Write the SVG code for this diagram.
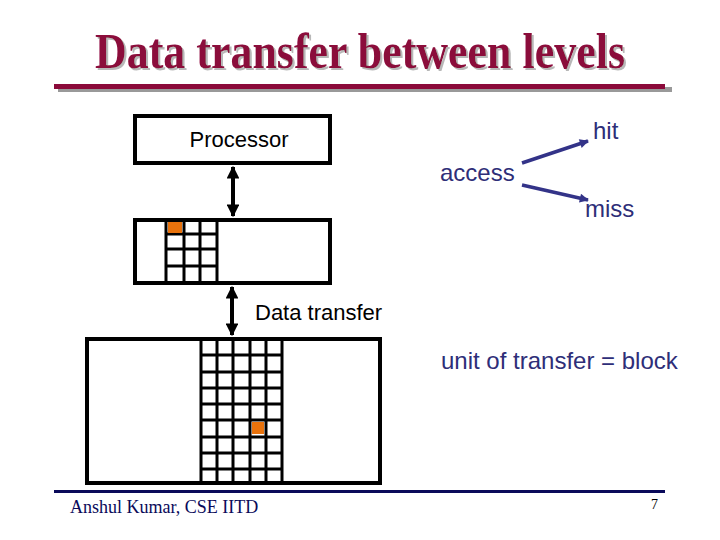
<svg xmlns="http://www.w3.org/2000/svg" width="720" height="540" viewBox="0 0 720 540">
<style>
.box{fill:#fff;stroke:#000;stroke-width:4}
.grid{stroke:#000;stroke-width:3;fill:none}
.sans{font-family:"Liberation Sans",Arial,sans-serif}
.s22{font-size:22px}
.s24{font-size:24px}
.navy{fill:#2e2e78}
.blk{fill:#000}
.conn-b{stroke:#000;stroke-width:4;fill:none}
.conn-n{stroke:#333388;stroke-width:3.5;fill:none}
</style>
<defs>
<marker id="ah" viewBox="0 0 10 10" refX="9" refY="5" markerWidth="3.2" markerHeight="3.2" orient="auto-start-reverse" markerUnits="strokeWidth">
<path d="M0,0 L10,5 L0,10 Z" fill="#000"/>
</marker>
<marker id="ahn" viewBox="0 0 10 10" refX="9" refY="5" markerWidth="3" markerHeight="2.6" orient="auto" markerUnits="strokeWidth">
<path d="M0,0 L10,5 L0,10 Z" fill="#333388"/>
</marker>
<filter id="shadow" x="-5%" y="-20%" width="110%" height="140%">
<feFlood flood-color="#b8b8b8" result="c"/>
<feComposite in="c" in2="SourceAlpha" operator="in" result="s"/>
<feOffset in="s" dx="2" dy="2" result="o"/>
<feMerge><feMergeNode in="o"/><feMergeNode in="SourceGraphic"/></feMerge>
</filter>
</defs>
<rect width="720" height="540" fill="#fff"/>
<g id="title">
<text x="95" y="68" textLength="530" lengthAdjust="spacingAndGlyphs" font-family="'Liberation Serif','Times New Roman',serif" font-weight="bold" font-size="50" fill="#8b0a3a" filter="url(#shadow)">Data transfer between levels</text>
<rect x="58" y="87" width="614" height="5" fill="#999"/>
<rect x="54" y="84" width="611" height="5" fill="#8b0a3a"/>
</g>
<g id="processor">
<rect class="box" x="135" y="116" width="195" height="47"/>
<text class="sans s22 blk" x="239" y="147" text-anchor="middle">Processor</text>
</g>
<g id="cache">
<rect class="box" x="135" y="220" width="195" height="63"/>
<path class="grid" d="M166,220V283M184,220V283M200,220V283M217,220V283M166,234H217M166,249H217M166,266H217"/>
<rect x="168" y="222" width="14" height="11" fill="#e8720c"/>
</g>
<g id="memory">
<rect class="box" x="87" y="339" width="293" height="144"/>
<path class="grid" d="M201,339V483M217,339V483M233,339V483M250,339V483M266,339V483M282,339V483M201,355H282M201,372H282M201,388H282M201,404H282M201,420H282M201,437H282M201,453H282M201,469H282"/>
<rect x="252" y="422" width="12" height="12" fill="#e8720c"/>
</g>
<g id="connectors">
<line class="conn-b" x1="233" y1="167" x2="233" y2="216" marker-start="url(#ah)" marker-end="url(#ah)"/>
<line class="conn-b" x1="232" y1="287" x2="232" y2="335" marker-start="url(#ah)" marker-end="url(#ah)"/>
<line class="conn-n" x1="522" y1="163" x2="588" y2="141" marker-end="url(#ahn)"/>
<line class="conn-n" x1="522" y1="185" x2="588" y2="200" marker-end="url(#ahn)"/>
</g>
<g id="labels">
<text class="sans s24 navy" x="593" y="139">hit</text>
<text class="sans s24 navy" x="440" y="181">access</text>
<text class="sans s24 navy" x="585" y="217">miss</text>
<text class="sans s22 blk" x="255" y="320">Data transfer</text>
<text class="sans s24 navy" x="441" y="369">unit of transfer = block</text>
</g>
<g id="footer">
<rect x="54" y="490" width="611" height="3" fill="#0a0a5a"/>
<text x="70" y="513" font-family="'Liberation Serif','Times New Roman',serif" font-size="18" fill="#0a0a5a">Anshul Kumar, CSE IITD</text>
<text x="651" y="509" font-family="'Liberation Serif','Times New Roman',serif" font-size="14" fill="#000">7</text>
</g>
</svg>
